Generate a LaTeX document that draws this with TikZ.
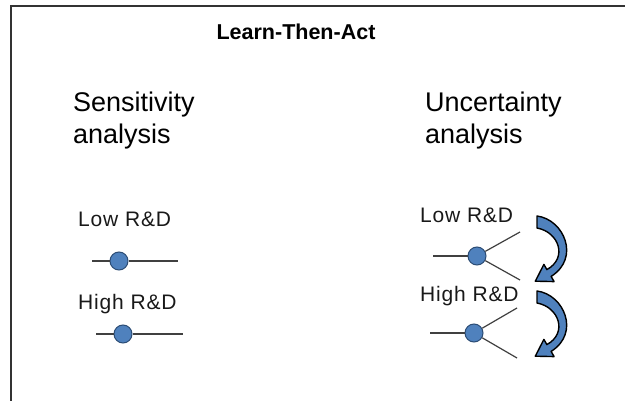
\documentclass[tikz,border=0pt]{standalone}
\usepackage{fontspec}
\setmainfont{Liberation Sans}
\newfontfamily\lblfont[LetterSpace=4]{Liberation Sans}
\definecolor{nodeblue}{HTML}{4F81BD}
\definecolor{nodeedge}{HTML}{2C4D75}
\definecolor{wiregray}{HTML}{404040}
\tikzset{
  titletext/.style={font=\fontsize{21.5}{26}\selectfont\bfseries, anchor=base, inner sep=0pt},
  headtext/.style={font=\fontsize{27}{32}\selectfont, anchor=base west, inner sep=0pt},
  lbltext/.style={font=\lblfont\fontsize{21}{25}\selectfont, anchor=base west, inner sep=0pt, text=black!90},
  dot/.style={circle, fill=nodeblue, draw=nodeedge, line width=1pt, minimum size=18pt, inner sep=0pt},
  wire/.style={draw=wiregray, line width=1.2pt},
  frameline/.style={draw=black!80, line width=2pt},
  bendarrow/.style={fill=nodeblue, draw=black, line width=1.4pt, line join=round}
}
% curved "repeat" arrow beside a decision fork
\newcommand{\loopback}{%
  \path[bendarrow] (537,216) .. controls (564,219.5) and (580.5,258) .. (551.1,276.4)
    -- (554.1,281.6) -- (535.3,281.2) -- (543.9,264.4) -- (546.9,269.6)
    .. controls (568,258) and (559,232) .. (537,228) -- cycle;}
\begin{document}
\begin{tikzpicture}[x=1pt,y=-1pt]
  \useasboundingbox (0,0) rectangle (625,401);
  % open frame: top and left edges
  \draw[frameline] (11,402) -- (11,6) -- (626,6);

  \node[titletext] (title) at (296,40) {Learn-Then-Act};

  \node[headtext] (sens1) at (73,112) {Sensitivity};
  \node[headtext] (sens2) at (73,144) {analysis};
  \node[headtext] (unc1) at (425,112) {Uncertainty};
  \node[headtext] (unc2) at (425,144) {analysis};

  % sensitivity: single scenario lines
  \node[lbltext] (lowL) at (78,227) {Low R\&D};
  \node[dot] (dotL1) at (119,261) {};
  \coordinate (l1a) at (92,261);
  \coordinate (l1b) at (178,261);
  \draw[wire] (l1a) -- (dotL1) -- (l1b);

  \node[lbltext] (highL) at (78,310) {High R\&D};
  \node[dot] (dotL2) at (123,334) {};
  \coordinate (l2a) at (96,334);
  \coordinate (l2b) at (183,334);
  \draw[wire] (l2a) -- (dotL2) -- (l2b);

  % uncertainty: forks with learning loops
  \node[lbltext] (lowR) at (420,223) {Low R\&D};
  \node[dot] (dotR1) at (477,256) {};
  \coordinate (r1in) at (433,256);
  \coordinate (r1up) at (520,232);
  \coordinate (r1dn) at (520,280);
  \draw[wire] (r1in) -- (dotR1);
  \draw[wire] (dotR1) -- (r1up);
  \draw[wire] (dotR1) -- (r1dn);

  \node[lbltext] (highR) at (420,302) {High R\&D};
  \node[dot] (dotR2) at (474,333) {};
  \coordinate (r2in) at (430,333);
  \coordinate (r2up) at (517,308);
  \coordinate (r2dn) at (517,358);
  \draw[wire] (r2in) -- (dotR2);
  \draw[wire] (dotR2) -- (r2up);
  \draw[wire] (dotR2) -- (r2dn);

  \loopback
  \begin{scope}[shift={(0,75)}]
    \loopback
  \end{scope}
\end{tikzpicture}
\end{document}
